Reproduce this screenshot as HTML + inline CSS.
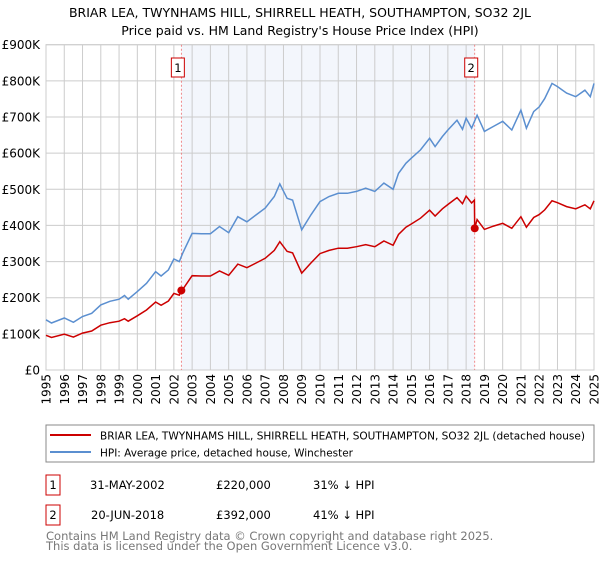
<!DOCTYPE html>
<html><head><meta charset="utf-8"><style>
body{margin:0;background:#fff;font-family:"Liberation Sans","DejaVu Sans",sans-serif;}
svg text{font-family:"DejaVu Sans","Liberation Sans",sans-serif;}
</style></head><body>
<svg id="c" width="600" height="560" viewBox="0 0 600 560" xmlns="http://www.w3.org/2000/svg">
<text x="300" y="17" text-anchor="middle" font-size="12.5" fill="#000">BRIAR LEA, TWYNHAMS HILL, SHIRRELL HEATH, SOUTHAMPTON, SO32 2JL</text>
<text x="300" y="35" text-anchor="middle" font-size="12.5" fill="#000">Price paid vs. HM Land Registry's House Price Index (HPI)</text>
<g id="plot"></g>
<rect x="46" y="425" width="548" height="37" fill="none" stroke="#888"/>
<line x1="50" y1="435" x2="91" y2="435" stroke="#cc0000" stroke-width="2"/>
<text x="100" y="439.5" font-size="11" textLength="485" lengthAdjust="spacingAndGlyphs">BRIAR LEA, TWYNHAMS HILL, SHIRRELL HEATH, SOUTHAMPTON, SO32 2JL (detached house)</text>
<line x1="50" y1="452" x2="91" y2="452" stroke="#5b8fd0" stroke-width="2"/>
<text x="100" y="456.5" font-size="11" textLength="253" lengthAdjust="spacingAndGlyphs">HPI: Average price, detached house, Winchester</text>
<rect x="46" y="475" width="14" height="20" fill="none" stroke="#cc0000"/>
<text x="53" y="489" font-size="11.5" text-anchor="middle">1</text>
<text x="90" y="489" font-size="11.5">31-MAY-2002</text>
<text x="216" y="489" font-size="11.5">£220,000</text>
<text x="313" y="489" font-size="11.5">31% ↓ HPI</text>
<rect x="46" y="505" width="14" height="20" fill="none" stroke="#cc0000"/>
<text x="53" y="519" font-size="11.5" text-anchor="middle">2</text>
<text x="91" y="519" font-size="11.5">20-JUN-2018</text>
<text x="216" y="519" font-size="11.5">£392,000</text>
<text x="313" y="519" font-size="11.5">41% ↓ HPI</text>
<text x="46" y="540" font-size="11.5" fill="#777">Contains HM Land Registry data © Crown copyright and database right 2025.</text>
<text x="46" y="550" font-size="11.5" fill="#777">This data is licensed under the Open Government Licence v3.0.</text>
</svg>
<script>
const hpiYears=[1995,1995.3,1996,1996.5,1997,1997.5,1998,1998.5,1999,1999.3,1999.5,2000,2000.5,2001,2001.3,2001.7,2002,2002.3,2002.5,2003,2003.5,2004,2004.5,2005,2005.5,2006,2006.5,2007,2007.5,2007.8,2008.2,2008.5,2009,2009.5,2010,2010.5,2011,2011.5,2012,2012.5,2013,2013.5,2014,2014.3,2014.7,2015,2015.5,2016,2016.3,2016.7,2017,2017.5,2017.8,2018,2018.3,2018.6,2019,2019.5,2020,2020.5,2021,2021.3,2021.7,2022,2022.3,2022.7,2023,2023.5,2024,2024.5,2024.8,2025];
const hpiValues=[139,130,144,132,148,157,180,190,196,206,196,217,240,272,260,277,307,300,325,378,377,377,397,380,424,410,429,448,480,515,475,470,388,429,466,480,489,489,494,503,494,517,500,544,572,586,609,641,618,646,664,691,666,697,669,705,660,674,688,664,719,669,715,728,751,793,784,766,756,774,756,793];
const priceYears=[1995,1995.3,1996,1996.5,1997,1997.5,1998,1998.5,1999,1999.3,1999.5,2000,2000.5,2001,2001.3,2001.7,2002,2002.3,2002.41,2002.5,2003,2003.5,2004,2004.5,2005,2005.5,2006,2006.5,2007,2007.5,2007.8,2008.2,2008.5,2009,2009.5,2010,2010.5,2011,2011.5,2012,2012.5,2013,2013.5,2014,2014.3,2014.7,2015,2015.5,2016,2016.3,2016.7,2017,2017.5,2017.8,2018,2018.3,2018.45,2018.47,2018.6,2019,2019.5,2020,2020.5,2021,2021.3,2021.7,2022,2022.3,2022.7,2023,2023.5,2024,2024.5,2024.8,2025];
const priceValues=[96,90,99,91,102,108,124,131,135,142,135,150,166,188,179,191,212,207,220,224,261,260,260,274,262,293,283,296,309,331,355,328,324,268,296,322,331,337,337,341,347,341,357,345,375,395,404,420,442,426,446,458,477,460,481,462,470,392,416,389,398,406,392,424,395,422,430,443,468,463,452,446,457,446,468];
const saleYears=[2002.41,2018.47];
const saleValues=[220,392];
const saleLabels=["1","2"];
const yTicks=[0,100,200,300,400,500,600,700,800,900];
const yTickLabels=["£0","£100K","£200K","£300K","£400K","£500K","£600K","£700K","£800K","£900K"];
const xTicks=[1995,1996,1997,1998,1999,2000,2001,2002,2003,2004,2005,2006,2007,2008,2009,2010,2011,2012,2013,2014,2015,2016,2017,2018,2019,2020,2021,2022,2023,2024,2025];

const L=46,R=594,T=44.7,B=370;
const sx=y=>L+(y-1995)/30*(R-L);
const sy=v=>B-v/900*(B-T);
const NS="http://www.w3.org/2000/svg";
const g=document.getElementById('plot');
function mk(tag,attrs,parent){const e=document.createElementNS(NS,tag);for(const k in attrs)e.setAttribute(k,attrs[k]);(parent||g).appendChild(e);return e;}

let r=mk('rect',{x:sx(saleYears[0]),y:T,width:sx(saleYears[1])-sx(saleYears[0]),height:B-T,fill:'#f3f6fc'});


yTicks.forEach((v,i)=>{
  const l=mk('line',{x1:L,x2:R,y1:sy(v),y2:sy(v),stroke:'#cccccc'});
  
  
  const t=mk('text',{x:L-6,y:sy(v)+4.5,'text-anchor':'end','font-size':'12'});
  t.textContent=yTickLabels[i];
  
  
});
xTicks.forEach(y=>{
  const l=mk('line',{x1:sx(y),x2:sx(y),y1:T,y2:B,stroke:'#cccccc'});
  
  
  const t=mk('text',{x:0,y:0,'text-anchor':'end','font-size':'12',transform:`translate(${sx(y)+4.5},${B+4}) rotate(-90)`});
  t.textContent=y;
  
  
});
const bd=mk('rect',{x:L,y:T,width:R-L,height:B-T,fill:'none',stroke:'#cccccc'});


saleYears.forEach((y,i)=>{
  const l=mk('line',{x1:sx(y),x2:sx(y),y1:T,y2:B,stroke:'#f07070','stroke-dasharray':'2,2','stroke-width':'0.8'});
  
  
  const bx=mk('rect',{x:sx(y)-10,y:58,width:13,height:19,fill:'#fff',stroke:'#cc0000'});
  
  
  const t=mk('text',{x:sx(y)-3.5,y:72,'text-anchor':'middle','font-size':'11.5'});
  t.textContent=saleLabels[i];
  
  
});
const hp=mk('path',{d:hpiYears.map((y,i)=>(i?'L':'M')+sx(y).toFixed(1)+','+sy(hpiValues[i]).toFixed(1)).join(''),fill:'none',stroke:'#5b8fd0','stroke-width':'1.5'});


const pp=mk('path',{d:priceYears.map((y,i)=>(i?'L':'M')+sx(y).toFixed(1)+','+sy(priceValues[i]).toFixed(1)).join(''),fill:'none',stroke:'#cc0000','stroke-width':'1.5'});


saleYears.forEach((y,i)=>{
  const c=mk('circle',{cx:sx(y),cy:sy(saleValues[i]),r:4,fill:'#cc0000'});
  
  
});
</script>
</body></html>
